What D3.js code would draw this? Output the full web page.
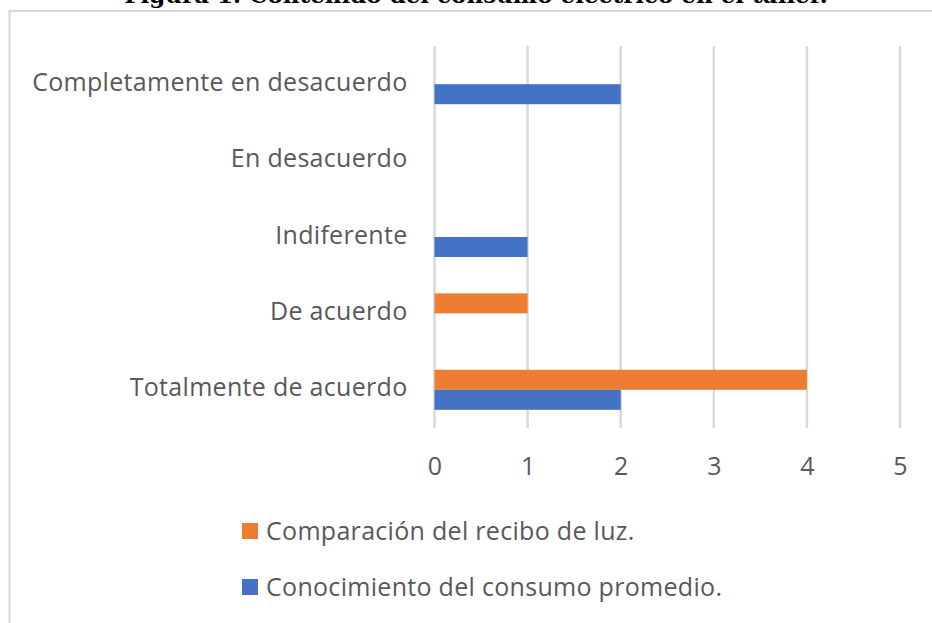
<!DOCTYPE html>
<html>
<head>
<meta charset="utf-8">
<script src="https://cdn.jsdelivr.net/npm/d3@7"></script>
<style>
  html, body { margin: 0; padding: 0; background: #ffffff; }
  svg { display: block; }
</style>
</head>
<body>
<svg id="chart" width="932" height="623"></svg>
<script>
// Categories, listed top to bottom
const categories = [
  "Completamente en desacuerdo",
  "En desacuerdo",
  "Indiferente",
  "De acuerdo",
  "Totalmente de acuerdo"
];
const seriesNames = [
  "Comparación del recibo de luz.",
  "Conocimiento del consumo promedio."
];
const comparacionValues = [0, 0, 0, 1, 4];
const conocimientoValues = [2, 0, 1, 0, 2];
const seriesColors = ["#ED7D31", "#4472C4"];
const xTicks = [0, 1, 2, 3, 4, 5];
const titleText = "Figura 1. Contenido del consumo eléctrico en el taller.";

const series = [
  { name: seriesNames[0], values: comparacionValues, color: seriesColors[0] },
  { name: seriesNames[1], values: conocimientoValues, color: seriesColors[1] }
];

const svg = d3.select("#chart");
const font = "'Open Sans', 'Noto Sans', sans-serif";
const fontSize = 25;
const spacing = 0.3;
const textColor = "#595959";

// Caption above the chart frame (runs off the top edge of the page)
svg.append("text")
  .attr("x", 476)
  .attr("y", 3)
  .attr("text-anchor", "middle")
  .attr("font-family", "'DejaVu Serif', 'Liberation Serif', serif")
  .attr("font-weight", "bold")
  .attr("font-size", 23)
  .attr("fill", "#000")
  .text(titleText);

// Chart frame
svg.append("rect")
  .attr("x", 9.5)
  .attr("y", 11)
  .attr("width", 940)
  .attr("height", 640)
  .attr("fill", "#ffffff")
  .attr("stroke", "#D9D9D9")
  .attr("stroke-width", 2);

const plot = { left: 434.5, right: 900, top: 46, bottom: 428 };

const x = d3.scaleLinear().domain([0, 5]).range([plot.left, plot.right]);
const y = d3.scaleBand().domain(categories).range([plot.top, plot.bottom])
  .paddingInner(0.4764).paddingOuter(0.2382);
const ySub = d3.scaleBand().domain(seriesNames).range([0, y.bandwidth()]);

// Vertical gridlines
svg.append("g")
  .selectAll("line")
  .data(xTicks)
  .join("line")
  .attr("x1", d => x(d))
  .attr("x2", d => x(d))
  .attr("y1", plot.top)
  .attr("y2", plot.bottom)
  .attr("stroke", "#D9D9D9")
  .attr("stroke-width", 2.5);

// X axis tick labels
const xAxis = d3.axisBottom(x).tickValues(xTicks).tickSize(0).tickPadding(0).tickFormat(d3.format("d"));
const gx = svg.append("g")
  .attr("transform", `translate(0,${plot.bottom + 38})`)
  .call(xAxis);
gx.select(".domain").remove();
gx.selectAll("text")
  .attr("dy", "0.36em")
  .attr("font-family", font)
  .attr("font-size", fontSize)
  .attr("fill", textColor);

// Category labels
const yAxis = d3.axisLeft(y).tickSize(0).tickPadding(0);
const gy = svg.append("g")
  .attr("transform", `translate(${plot.left - 27},0)`)
  .call(yAxis);
gy.select(".domain").remove();
gy.selectAll("text")
  .attr("dy", "0.26em")
  .attr("font-family", font)
  .attr("font-size", fontSize)
  .attr("letter-spacing", spacing)
  .attr("fill", textColor);

// Bars
const groups = svg.append("g")
  .selectAll("g")
  .data(series)
  .join("g")
  .attr("fill", d => d.color);

groups.selectAll("rect")
  .data(s => s.values.map((v, i) => ({ name: s.name, cat: categories[i], value: v })))
  .join("rect")
  .attr("x", x(0))
  .attr("y", d => y(d.cat) + ySub(d.name))
  .attr("width", d => x(d.value) - x(0))
  .attr("height", ySub.bandwidth());

// Legend
const legend = svg.append("g")
  .selectAll("g")
  .data(series)
  .join("g")
  .attr("transform", (d, i) => `translate(242,${531 + i * 56})`);
legend.append("rect")
  .attr("x", 0)
  .attr("y", -8)
  .attr("width", 16)
  .attr("height", 16)
  .attr("fill", d => d.color);
legend.append("text")
  .attr("x", 24)
  .attr("y", 0)
  .attr("dy", "0.36em")
  .attr("font-family", font)
  .attr("font-size", fontSize)
  .attr("letter-spacing", spacing)
  .attr("fill", textColor)
  .text(d => d.name);
</script>
</body>
</html>
